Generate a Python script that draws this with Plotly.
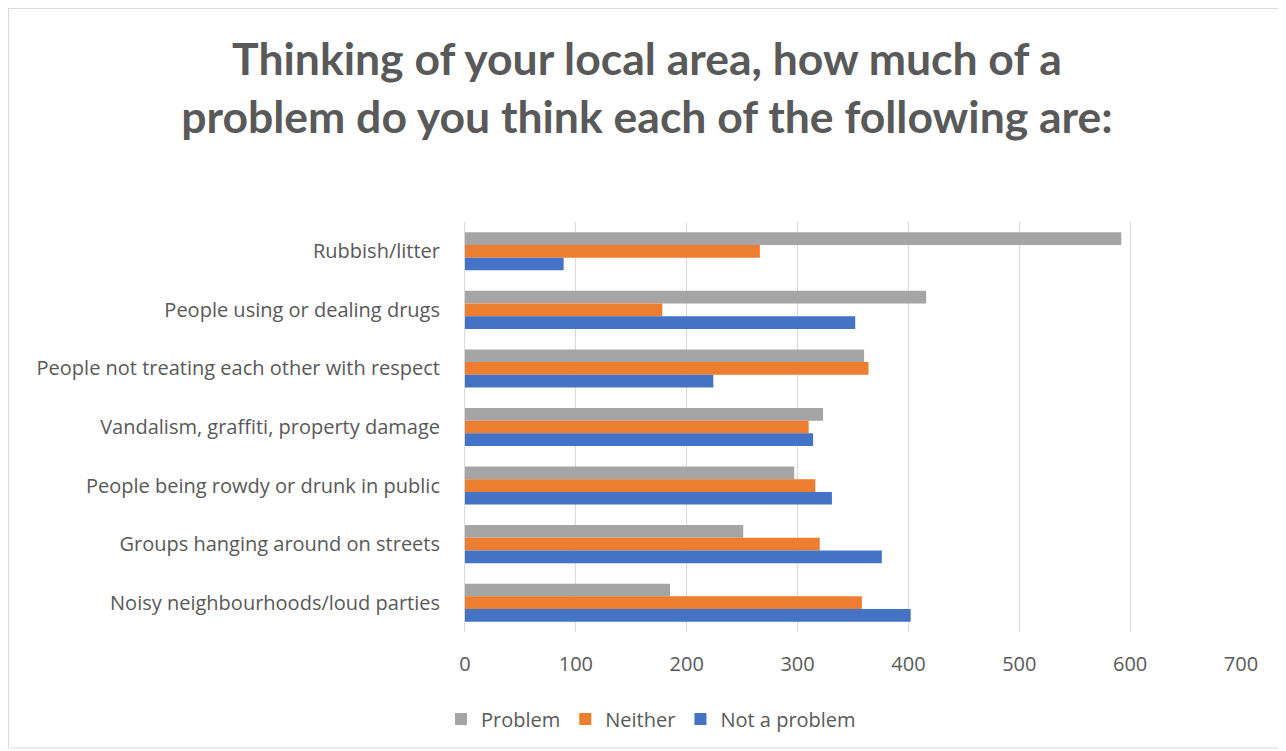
import plotly.graph_objects as go

categories = [
    "Rubbish/litter",
    "People using or dealing drugs",
    "People not treating each other with respect",
    "Vandalism, graffiti, property damage",
    "People being rowdy or drunk in public",
    "Groups hanging around on streets",
    "Noisy neighbourhoods/loud parties",
]
problem = [592, 416, 360, 323, 297, 251, 185]
neither = [266, 178, 364, 310, 316, 320, 358]
not_a_problem = [89, 352, 224, 314, 331, 376, 402]

series_names = ["Problem", "Neither", "Not a problem"]
series_colors = ["#A5A5A5", "#ED7D31", "#4472C4"]
x_ticks = [0, 100, 200, 300, 400, 500, 600, 700]

# page is offset by the 8px body margin
OFF = 8
W, H = 1286 - OFF, 751 - OFF
L, R = 465 - OFF, 1286 - 1241
T, B = 222 - OFF, 751 - 632
pw, ph = W - L - R, H - T - B

fig = go.Figure()
for name, vals, col in zip(series_names, [problem, neither, not_a_problem], series_colors):
    fig.add_trace(go.Bar(
        y=categories, x=vals, name=name, orientation="h",
        marker=dict(color=col, line=dict(width=0)),
    ))

fig.update_layout(
    width=W, height=H,
    margin=dict(l=L, r=R, t=T, b=B, autoexpand=False),
    paper_bgcolor="white", plot_bgcolor="white",
    barmode="group", bargap=0.35, bargroupgap=0,
    font=dict(family="Open Sans", color="#595959", size=20),
    title=dict(
        text="Thinking of your local area, how much of a<br>problem do you think each of the following are:",
        x=(647 - OFF) / W, xref="container", xanchor="center",
        y=1 - (75 - OFF) / H, yref="container", yanchor="middle",
        font=dict(family="Lato", size=44.5, color="#595959", weight="bold"),
    ),
    xaxis=dict(
        range=[0, 700], tickvals=x_ticks, showgrid=True, gridcolor="#D9D9D9",
        gridwidth=1, zeroline=False, showline=False, ticks="",
        ticklabelstandoff=18, tickfont=dict(size=20, color="#595959"),
    ),
    yaxis=dict(
        autorange="reversed", showgrid=False, zeroline=False, ticks="",
        showline=True, linecolor="#D9D9D9", linewidth=1,
        ticklabelstandoff=20, tickfont=dict(size=20, color="#595959"),
    ),
    legend=dict(
        orientation="h", x=(651 - 465) / pw, xanchor="center",
        y=(632 - 719) / ph, yanchor="middle",
        font=dict(size=20, color="#595959"), traceorder="normal",
        itemwidth=30,
    ),
    shapes=[dict(
        type="rect", xref="paper", yref="paper",
        x0=(0.5 - L) / pw, x1=(1283 - OFF - L) / pw,
        y0=-(748 - 632) / ph, y1=(H - B - 0.5) / ph,
        line=dict(color="#D9D9D9", width=1), fillcolor="rgba(0,0,0,0)",
        layer="below",
    )],
)

fig.write_html("out.html")
